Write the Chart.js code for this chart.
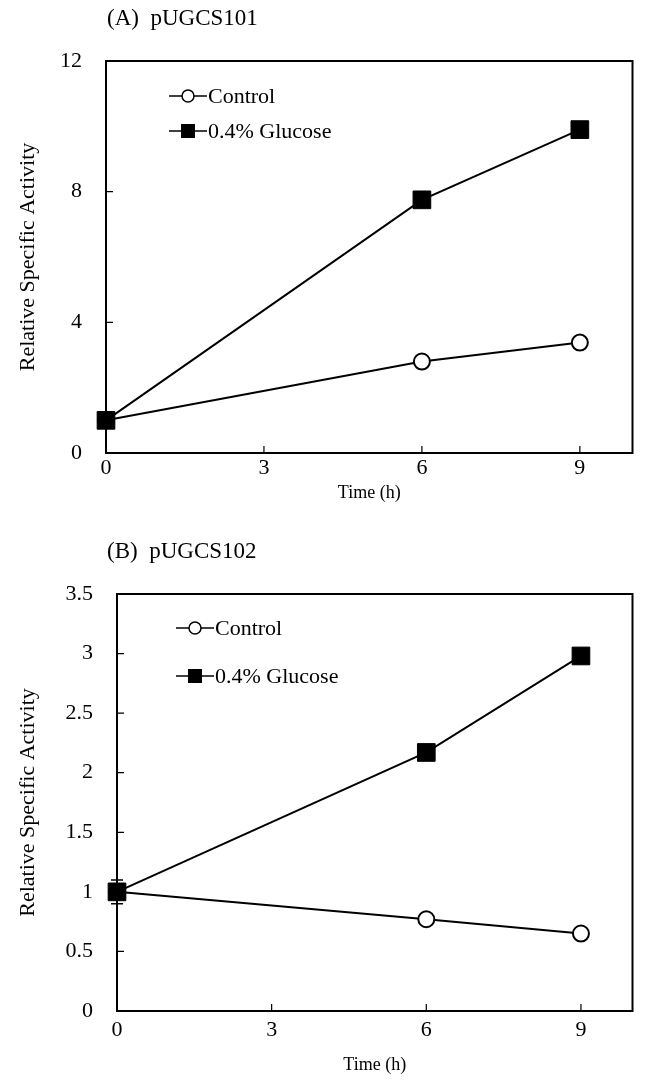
<!DOCTYPE html>
<html>
<head>
<meta charset="utf-8">
<script src="https://cdn.jsdelivr.net/npm/chart.js@4/dist/chart.umd.min.js"></script>
<style>
  body { margin: 0; background: #fff; }
  .panel { position: absolute; left: 0; }
</style>
</head>
<body>
<div class="panel" style="top:0"><canvas id="chartA" width="646" height="530"></canvas></div>
<div class="panel" style="top:530px"><canvas id="chartB" width="646" height="552"></canvas></div>
<script>
// data
const hours = [0, 6, 9];
const controlA = [1.0, 2.8, 3.38];
const glucoseA = [1.0, 7.75, 9.9];
const errA = [0, 0, 0];
const controlB = [1.0, 0.77, 0.65];
const glucoseB = [1.0, 2.17, 2.98];
const errB = [0.1, 0, 0];
const xTicks = [0, 3, 6, 9];
const yTicksA = [0, 4, 8, 12];
const yTicksB = [0, 0.5, 1, 1.5, 2, 2.5, 3, 3.5];
const seriesNames = ['Control', '0.4% Glucose'];

const SERIF = '"Liberation Serif", "Times New Roman", serif';

function pts(ys) {
  return hours.map((h, i) => ({ x: h, y: ys[i] }));
}

// box around plot + inward ticks + error bars, heading and legend
const framePlugin = {
  id: 'frame',
  beforeDatasetsDraw(chart, args, opts) {
    const { ctx, chartArea: a, scales } = chart;
    ctx.save();
    ctx.strokeStyle = '#000';
    ctx.lineWidth = 2;
    ctx.strokeRect(a.left, a.top, a.right - a.left, a.bottom - a.top);
    ctx.lineWidth = 1.2;
    ctx.beginPath();
    xTicks.forEach(v => {
      const x = scales.x.getPixelForValue(v);
      ctx.moveTo(x, a.bottom);
      ctx.lineTo(x, a.bottom - 7);
    });
    opts.yTicks.forEach(v => {
      const y = scales.y.getPixelForValue(v);
      ctx.moveTo(a.left, y);
      ctx.lineTo(a.left + 7, y);
    });
    ctx.stroke();
    // error bars
    ctx.lineWidth = 1.5;
    chart.data.datasets.forEach(ds => {
      (ds.err || []).forEach((e, i) => {
        if (!e) return;
        const x = scales.x.getPixelForValue(ds.data[i].x);
        const y1 = scales.y.getPixelForValue(ds.data[i].y - e);
        const y2 = scales.y.getPixelForValue(ds.data[i].y + e);
        ctx.beginPath();
        ctx.moveTo(x, y1); ctx.lineTo(x, y2);
        ctx.moveTo(x - 6, y1); ctx.lineTo(x + 6, y1);
        ctx.moveTo(x - 6, y2); ctx.lineTo(x + 6, y2);
        ctx.stroke();
      });
    });
    ctx.restore();
  },
  afterDraw(chart, args, opts) {
    const { ctx, chartArea: a } = chart;
    ctx.save();
    // heading
    ctx.fillStyle = '#000';
    ctx.font = '23px ' + SERIF;
    ctx.textBaseline = 'middle';
    ctx.textAlign = 'left';
    ctx.fillText(opts.heading, 107, opts.headingY);
    // legend
    const lx = a.left + opts.legendX;
    chart.data.datasets.slice().reverse().forEach((ds, i) => {
      const ly = a.top + opts.legendY[i];
      ctx.strokeStyle = '#000';
      ctx.lineWidth = 1.5;
      ctx.beginPath();
      ctx.moveTo(lx - 19, ly);
      ctx.lineTo(lx + 19, ly);
      ctx.stroke();
      if (ds.pointStyle === 'rect') {
        ctx.fillStyle = '#000';
        ctx.fillRect(lx - 7, ly - 7, 14, 14);
      } else {
        ctx.fillStyle = '#fff';
        ctx.beginPath();
        ctx.arc(lx, ly, 6, 0, Math.PI * 2);
        ctx.fill();
        ctx.stroke();
      }
      ctx.fillStyle = '#000';
      ctx.font = '22px ' + SERIF;
      ctx.fillText(ds.label, lx + 20, ly + 1);
    });
    ctx.restore();
  }
};

function makeChart(id, control, glucose, err, yTicks, yMax, cfg) {
  return new Chart(document.getElementById(id), {
    type: 'line',
    data: {
      datasets: [{
        label: seriesNames[1],
        data: pts(glucose),
        err: err,
        clip: false,
        borderColor: '#000',
        borderWidth: 2,
        pointStyle: 'rect',
        pointRadius: 12.5,
        pointBackgroundColor: '#000',
        pointBorderColor: '#000',
        pointBorderWidth: 1,
        tension: 0,
        order: 0
      }, {
        label: seriesNames[0],
        data: pts(control),
        clip: false,
        borderColor: '#000',
        borderWidth: 2,
        pointStyle: 'circle',
        pointRadius: 8,
        pointBackgroundColor: '#fff',
        pointBorderColor: '#000',
        pointBorderWidth: 2,
        tension: 0,
        order: 1
      }]
    },
    options: {
      responsive: false,
      animation: false,
      layout: { padding: { top: cfg.top, right: 4, left: 0, bottom: 0 } },
      plugins: {
        legend: { display: false },
        tooltip: { enabled: false },
        frame: {
          yTicks: yTicks,
          heading: cfg.heading,
          headingY: cfg.headingY,
          legendX: cfg.legendX,
          legendY: cfg.legendY
        }
      },
      scales: {
        x: {
          type: 'linear',
          min: 0,
          max: 10,
          afterBuildTicks: s => { s.ticks = xTicks.map(v => ({ value: v })); },
          afterFit: s => { s.height = cfg.xHeight; },
          grid: { display: false, drawTicks: false },
          border: { display: false },
          ticks: { color: '#000', padding: cfg.xPad, font: { family: SERIF, size: 22 } },
          title: {
            display: true,
            text: 'Time (h)',
            color: '#000',
            padding: { top: 0, bottom: cfg.xTitleBottom },
            font: { family: SERIF, size: 18 }
          }
        },
        y: {
          min: 0,
          max: yMax,
          afterBuildTicks: s => { s.ticks = yTicks.map(v => ({ value: v })); },
          afterFit: s => { s.width = cfg.left; },
          grid: { display: false, drawTicks: false },
          border: { display: false },
          ticks: {
            color: '#000',
            padding: 24,
            font: { family: SERIF, size: 22 },
            callback: v => String(v)
          },
          title: {
            display: true,
            text: 'Relative Specific Activity',
            color: '#000',
            padding: { top: 15, bottom: 0 },
            font: { family: SERIF, size: 22 }
          }
        }
      }
    },
    plugins: [framePlugin]
  });
}

makeChart('chartA', controlA, glucoseA, errA, yTicksA, 12, {
  top: 61, left: 106, xHeight: 77, xPad: 2, xTitleBottom: 26,
  heading: '(A)  pUGCS101', headingY: 19,
  legendX: 82, legendY: [35, 70]
});

makeChart('chartB', controlB, glucoseB, errB, yTicksB, 3.5, {
  top: 64, left: 117, xHeight: 71, xPad: 6, xTitleBottom: 6,
  heading: '(B)  pUGCS102', headingY: 22,
  legendX: 78, legendY: [34, 82]
});
</script>
</body>
</html>
